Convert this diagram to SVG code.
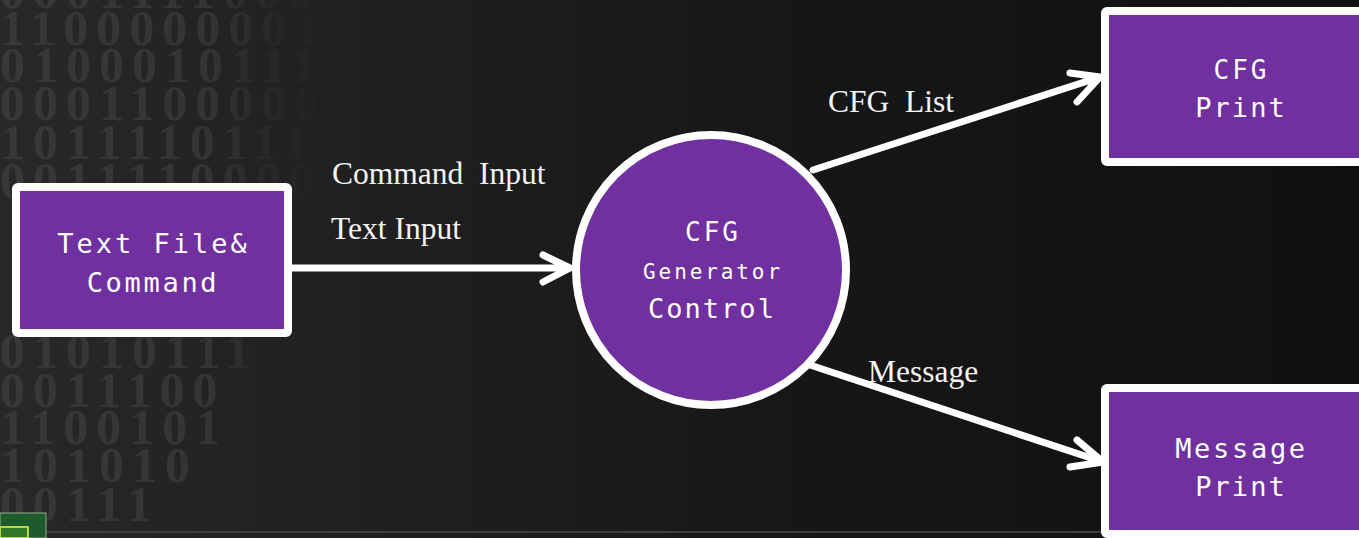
<svg xmlns="http://www.w3.org/2000/svg" width="1359" height="538" viewBox="0 0 1359 538">
  <defs>
    <linearGradient id="bg" x1="0" y1="0" x2="1" y2="0">
      <stop offset="0" stop-color="#282828"/>
      <stop offset="0.3" stop-color="#1f1f1f"/>
      <stop offset="0.6" stop-color="#161616"/>
      <stop offset="1" stop-color="#111111"/>
    </linearGradient>
    <linearGradient id="fade" gradientUnits="userSpaceOnUse" x1="0" y1="0" x2="350" y2="0">
      <stop offset="0" stop-color="#383838"/>
      <stop offset="0.6" stop-color="#343434"/>
      <stop offset="1" stop-color="#242424" stop-opacity="0"/>
    </linearGradient>
    <style>
      .digits { font-family: "Liberation Serif", serif; font-weight: bold; font-size: 50px; letter-spacing: 8px; fill: url(#fade); }
      .box { fill: #7030a0; stroke: #ffffff; stroke-width: 8; }
      .ntext { font-family: "DejaVu Sans Mono", "Liberation Mono", monospace; fill: #ffffff; text-anchor: middle; }
      .label { font-family: "Liberation Serif", serif; font-size: 31.5px; fill: #f4f4f4; white-space: pre; }
      .conn { fill: none; stroke: #ffffff; stroke-width: 7; stroke-linecap: round; stroke-linejoin: round; }
    </style>
  </defs>

  <!-- background -->
  <rect x="0" y="0" width="1359" height="538" fill="url(#bg)"/>
  <g id="binary-bg">
    <text class="digits" x="0" y="8">00011110000</text>
    <text class="digits" x="0" y="45">11000000011</text>
    <text class="digits" x="0" y="82">01000101111</text>
    <text class="digits" x="0" y="120">00011000000</text>
    <text class="digits" x="0" y="159">10111101110</text>
    <text class="digits" x="0" y="197">0011110000</text>
    <text class="digits" x="0" y="368">01010111</text>
    <text class="digits" x="0" y="407">0011100</text>
    <text class="digits" x="0" y="444">1100101</text>
    <text class="digits" x="0" y="482">101010</text>
    <text class="digits" x="0" y="521">00111</text>
  </g>
  <g id="bottom-strip">
    <line x1="46" y1="532" x2="1250" y2="532" stroke="#3e3e3e" stroke-width="2"/>
    <rect x="0" y="513" width="46" height="25" fill="#1d5a2c" stroke="#8fb08f" stroke-width="1"/>
    <rect x="0" y="527" width="28" height="11" fill="#2f7a2a" stroke="#b8d848" stroke-width="2"/>
  </g>

  <!-- connectors -->
  <g id="connectors">
    <path class="conn" d="M292,268 L570,268 M543,255 L570,268 L543,282"/>
    <path class="conn" d="M813,170 L1100,77 M1070,73 L1100,77 L1077,102"/>
    <path class="conn" d="M810,365 L1103,462 M1077,440 L1103,462 L1070,467"/>
    <text class="label" x="332" y="184">Command  Input</text>
    <text class="label" x="331" y="239">Text Input</text>
    <text class="label" x="828" y="112">CFG  List</text>
    <text class="label" x="868" y="382">Message</text>
  </g>

  <!-- nodes -->
  <g id="node-textfile">
    <rect class="box" x="16" y="187" width="272" height="146" rx="2"/>
    <text class="ntext" x="153.5" y="253" font-size="27" letter-spacing="3">Text File&amp;</text>
    <text class="ntext" x="153" y="292" font-size="27" letter-spacing="2.7">Command</text>
  </g>
  <g id="node-cfg-control">
    <circle cx="711" cy="270" r="135" fill="#7030a0" stroke="#ffffff" stroke-width="8"/>
    <text class="ntext" x="713" y="241" font-size="26" letter-spacing="3">CFG</text>
    <text class="ntext" x="713" y="279" font-size="21" letter-spacing="2.9">Generator</text>
    <text class="ntext" x="712" y="318" font-size="27" letter-spacing="2">Control</text>
  </g>
  <g id="node-cfg-print">
    <rect class="box" x="1105" y="11" width="262" height="151" rx="2"/>
    <text class="ntext" x="1241.5" y="79" font-size="26" letter-spacing="3">CFG</text>
    <text class="ntext" x="1241" y="117" font-size="27" letter-spacing="2">Print</text>
  </g>
  <g id="node-message-print">
    <rect class="box" x="1105" y="388" width="262" height="146" rx="2"/>
    <text class="ntext" x="1241.5" y="458" font-size="27" letter-spacing="2.7">Message</text>
    <text class="ntext" x="1241" y="496" font-size="27" letter-spacing="2">Print</text>
  </g>
</svg>
